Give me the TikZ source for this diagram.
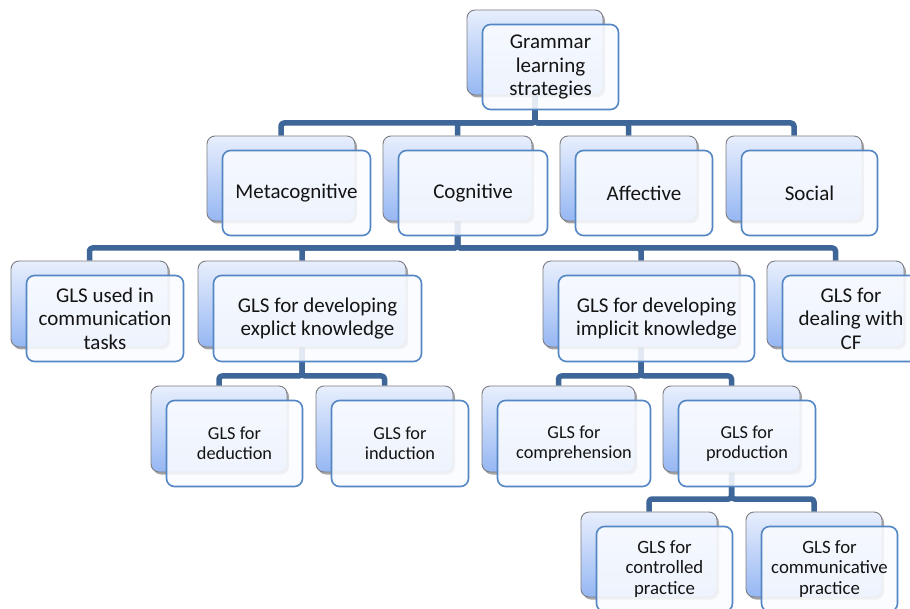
\documentclass[tikz,border=0pt]{standalone}
\usepackage{fontspec}
\setmainfont{Carlito}
\usetikzlibrary{shadows}
\definecolor{linecol}{RGB}{62,102,152}
\definecolor{frontborder}{RGB}{84,134,196}
\definecolor{frontfill}{RGB}{250,252,255}
\definecolor{backtop}{RGB}{232,239,253}
\definecolor{backbot}{RGB}{150,183,243}
\definecolor{backborder}{RGB}{125,125,130}
\definecolor{txt}{RGB}{20,20,20}
\pgfdeclarelayer{bg}
\pgfdeclarelayer{paper}
\pgfsetlayers{paper,bg,main}
\tikzset{
  conn/.style={draw=linecol, line width=5.5pt, rounded corners=3pt, line join=round},
  backbox/.style={rectangle, rounded corners=8pt, draw=backborder, line width=0.9pt,
    top color=backtop, bottom color=backbot, inner sep=0pt,
    drop shadow={shadow xshift=2pt, shadow yshift=-2.5pt, opacity=0.35, fill=black}},
  frontbox/.style={rectangle, rounded corners=8pt, draw=frontborder, line width=1.6pt,
    fill=frontfill, fill opacity=0.88, text opacity=1, draw opacity=1, inner sep=0pt,
    align=center, text=txt},
  fA/.style={font={\fontsize{21}{23.5}\selectfont}},
  fB/.style={font={\fontsize{18.3}{20.5}\selectfont}},
  fC/.style={font={\fontsize{18.8}{20.2}\selectfont}},
}
% name, x1, y1, x2, y2 (back box), text, font style
\newcommand\gpair[7]{%
  \node[backbox, minimum width={(#4-#2)*1pt}, minimum height={(#5-#3)*1pt}]
    (b#1) at ({(#2+#4)/2},{(#3+#5)/2}) {};
  \node[frontbox, #7, minimum width={(#4-#2)*1pt}, minimum height={(#5-#3)*1pt}]
    (f#1) at ({(#2+#4)/2+15.5},{(#3+#5)/2+14.5}) {#6};
}
\begin{document}
\begin{tikzpicture}[x=1pt,y=-1pt]
\clip (0,0) rectangle (910,609);
\begin{pgfonlayer}{paper}
\fill[white] (0,0) rectangle (910,609);
\end{pgfonlayer}

\gpair{top}{467}{10}{603}{95}{Grammar\\learning\\strategies}{fA}
\gpair{meta}{207}{136}{355}{221}{Metacognitive}{fA}
\gpair{cog}{383}{136}{532}{221}{Cognitive}{fA}
\gpair{aff}{560}{136}{697}{221}{Affective}{fA}
\gpair{soc}{726}{136}{862}{221}{Social}{fA}
\gpair{comm}{11}{261}{168}{347}{GLS used in\\communication\\tasks}{fA}
\gpair{expl}{198}{261}{406}{347}{GLS for developing\\explict knowledge}{fA}
\gpair{impl}{543}{261}{739}{347}{GLS for developing\\implicit knowledge}{fA}
\gpair{cf}{767}{261}{904}{347}{GLS for\\dealing with\\CF}{fA}
\gpair{ded}{151}{386}{287}{472}{GLS for\\deduction}{fB}
\gpair{ind}{316}{386}{453}{472}{GLS for\\induction}{fB}
\gpair{compr}{482}{386}{635}{472}{GLS for\\comprehension}{fB}
\gpair{prod}{663}{386}{800}{472}{GLS for\\production}{fB}
\gpair{ctrl}{581}{512}{717}{597}{GLS for\\controlled\\practice}{fC}
\gpair{commp}{746}{512}{882}{597}{GLS for\\communicative\\practice}{fC}

\coordinate (barA) at (0,123);
\coordinate (barB) at (0,248);
\coordinate (barC) at (0,376);
\coordinate (barD) at (0,499);

\begin{pgfonlayer}{bg}
\foreach \c in {meta,cog,aff,soc}
  \draw[conn] (btop.south) -- (btop.south |- barA) -| (b\c.north);
\foreach \c in {comm,expl,impl,cf}
  \draw[conn] (bcog.south) -- (bcog.south |- barB) -| (b\c.north);
\foreach \c in {ded,ind}
  \draw[conn] (bexpl.south) -- (bexpl.south |- barC) -| (b\c.north);
\foreach \c in {compr,prod}
  \draw[conn] (bimpl.south) -- (bimpl.south |- barC) -| (b\c.north);
\foreach \c in {ctrl,commp}
  \draw[conn] (bprod.south) -- (bprod.south |- barD) -| (b\c.north);
\end{pgfonlayer}
\end{tikzpicture}
\end{document}
